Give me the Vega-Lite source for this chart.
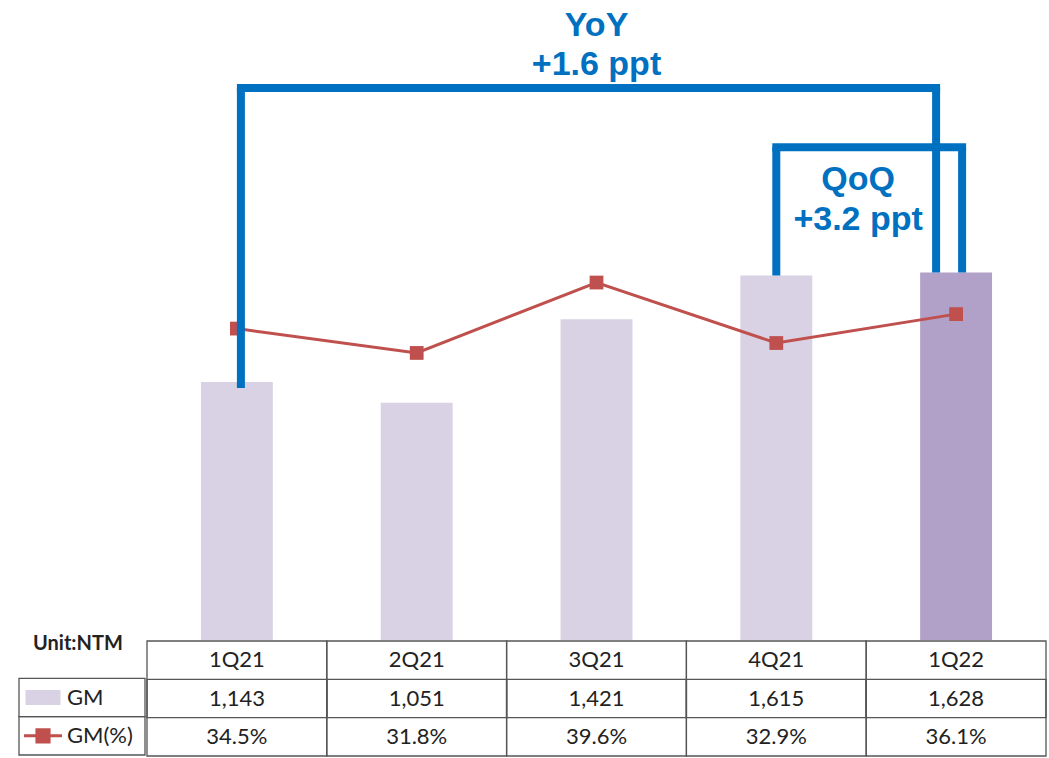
{
  "$schema": "https://vega.github.io/schema/vega-lite/v6.json",
  "description": "Quarterly gross margin (GM, NTM) with GM% line, data table and YoY / QoQ brackets.",
  "padding": {"left": 18, "top": 0, "right": 6, "bottom": 3},
  "config": {
    "view": {"stroke": null},
    "text": {"font": "Lato", "fontSize": 22, "color": "#222222"}
  },
  "datasets": {
    "quarters": [
      {"q": "1Q21", "gm": 1143, "pct": 0.345},
      {"q": "2Q21", "gm": 1051, "pct": 0.318},
      {"q": "3Q21", "gm": 1421, "pct": 0.396},
      {"q": "4Q21", "gm": 1615, "pct": 0.329},
      {"q": "1Q22", "gm": 1628, "pct": 0.361}
    ],
    "brackets": [
      {"name": "YoY", "from": "1Q21", "to": "1Q22", "fromGM": 1143, "toGM": 1628, "level": 2445, "label": ["YoY", "+1.6 ppt"]},
      {"name": "QoQ", "from": "4Q21", "to": "1Q22", "fromGM": 1615, "toGM": 1628, "level": 2183, "label": ["QoQ", "+3.2 ppt"]}
    ]
  },
  "spacing": 0,
  "hconcat": [
    {
      "spacing": 0,
      "bounds": "flush",
      "vconcat": [
        {
          "width": 126,
          "height": 640,
          "data": {"values": [{}]},
          "mark": "text",
          "encoding": {"text": {"value": ""}}
        },
        {
          "width": 126,
          "height": 115,
          "data": {"values": [{"row": "GM"}, {"row": "GM(%)"}]},
          "encoding": {
            "y": {"field": "row", "type": "nominal", "scale": {"domain": ["hdr", "GM", "GM(%)"], "paddingInner": 0, "paddingOuter": 0}, "axis": null}
          },
          "layer": [
            {"mark": {"type": "rect", "filled": false, "stroke": "#555555", "strokeWidth": 1.3}},
            {"mark": {"type": "text", "align": "left", "dx": -15}, "encoding": {"text": {"field": "row"}}},
            {
              "transform": [{"filter": "datum.row == 'GM'"}],
              "mark": {"type": "point", "shape": "M-1,-0.43H1V0.43H-1Z", "size": 1225, "filled": true, "opacity": 1, "color": "#D9D2E4", "xOffset": -39}
            },
            {
              "transform": [{"filter": "datum.row == 'GM(%)'"}],
              "mark": {"type": "point", "shape": "M-1,0H1M-0.32,-0.32H0.32V0.32H-0.32Z", "size": 1444, "filled": true, "opacity": 1, "fill": "#C0504D", "stroke": "#C0504D", "strokeWidth": 3, "xOffset": -39}
            },
            {
              "data": {"values": [{"unit": "Unit:NTM"}]},
              "mark": {"type": "text", "align": "left", "dx": -49, "dy": -15, "fontWeight": "bold", "fontSize": 20},
              "encoding": {
                "y": {"datum": "hdr", "type": "nominal"},
                "text": {"field": "unit"}
              }
            }
          ]
        }
      ]
    },
    {
      "spacing": 0,
      "vconcat": [
        {
          "width": 899,
          "height": 640,
          "data": {"name": "quarters"},
          "encoding": {
            "x": {"field": "q", "type": "nominal", "scale": {"domain": ["1Q21", "2Q21", "3Q21", "4Q21", "1Q22"], "paddingInner": 0.6, "paddingOuter": 0.3}, "axis": null}
          },
          "layer": [
            {
              "mark": {"type": "bar"},
              "encoding": {
                "y": {"field": "gm", "type": "quantitative", "scale": {"domain": [0, 2835]}, "axis": null},
                "color": {"condition": {"test": "datum.q == '1Q22'", "value": "#B1A0C7"}, "value": "#D9D2E4"}
              }
            },
            {
              "mark": {"type": "line", "color": "#C0504D", "strokeWidth": 3, "point": {"shape": "square", "size": 190, "filled": true, "opacity": 1, "color": "#C0504D"}},
              "encoding": {
                "y": {"field": "pct", "type": "quantitative", "scale": {"domain": [0, 0.709]}, "axis": null}
              }
            },
            {
              "data": {"name": "brackets"},
              "transform": [{"filter": "datum.name == 'YoY'"}],
              "layer": [
                {
                  "mark": {"type": "rule", "color": "#0070C0", "strokeWidth": 8, "xOffset": 4, "y2Offset": 6},
                  "encoding": {
                    "x": {"field": "from", "type": "nominal"},
                    "y": {"field": "level", "type": "quantitative", "scale": {"domain": [0, 2835]}, "axis": null},
                    "y2": {"field": "fromGM"}
                  }
                },
                {
                  "mark": {"type": "rule", "color": "#0070C0", "strokeWidth": 8, "xOffset": -20},
                  "encoding": {
                    "x": {"field": "to", "type": "nominal"},
                    "y": {"field": "level", "type": "quantitative", "scale": {"domain": [0, 2835]}, "axis": null},
                    "y2": {"field": "toGM"}
                  }
                },
                {
                  "mark": {"type": "rule", "color": "#0070C0", "strokeWidth": 8, "strokeCap": "square", "xOffset": 4, "x2Offset": -20},
                  "encoding": {
                    "x": {"field": "from", "type": "nominal"},
                    "x2": {"field": "to"},
                    "y": {"field": "level", "type": "quantitative", "scale": {"domain": [0, 2835]}, "axis": null}
                  }
                },
                {
                  "mark": {"type": "text", "font": "Liberation Sans", "fontWeight": "bold", "fontSize": 34, "lineHeight": 39, "color": "#0070C0", "baseline": "alphabetic", "dy": -52},
                  "encoding": {
                    "x": {"datum": "3Q21", "type": "nominal"},
                    "y": {"field": "level", "type": "quantitative", "scale": {"domain": [0, 2835]}, "axis": null},
                    "text": {"field": "label"}
                  }
                }
              ],
              "resolve": {"scale": {"y": "shared"}}
            },
            {
              "data": {"name": "brackets"},
              "transform": [{"filter": "datum.name == 'QoQ'"}],
              "layer": [
                {
                  "mark": {"type": "rule", "color": "#0070C0", "strokeWidth": 8, "xOffset": 0},
                  "encoding": {
                    "x": {"field": "from", "type": "nominal"},
                    "y": {"field": "level", "type": "quantitative", "scale": {"domain": [0, 2835]}, "axis": null},
                    "y2": {"field": "fromGM"}
                  }
                },
                {
                  "mark": {"type": "rule", "color": "#0070C0", "strokeWidth": 8, "xOffset": 6},
                  "encoding": {
                    "x": {"field": "to", "type": "nominal"},
                    "y": {"field": "level", "type": "quantitative", "scale": {"domain": [0, 2835]}, "axis": null},
                    "y2": {"field": "toGM"}
                  }
                },
                {
                  "mark": {"type": "rule", "color": "#0070C0", "strokeWidth": 8, "strokeCap": "square", "xOffset": 0, "x2Offset": 6},
                  "encoding": {
                    "x": {"field": "from", "type": "nominal"},
                    "x2": {"field": "to"},
                    "y": {"field": "level", "type": "quantitative", "scale": {"domain": [0, 2835]}, "axis": null}
                  }
                },
                {
                  "mark": {"type": "text", "font": "Liberation Sans", "fontWeight": "bold", "fontSize": 34, "lineHeight": 40, "color": "#0070C0", "baseline": "alphabetic", "dx": -98, "dy": 43},
                  "encoding": {
                    "x": {"datum": "1Q22", "type": "nominal"},
                    "y": {"field": "level", "type": "quantitative", "scale": {"domain": [0, 2835]}, "axis": null},
                    "text": {"field": "label"}
                  }
                }
              ],
              "resolve": {"scale": {"y": "shared"}}
            }
          ],
          "resolve": {"scale": {"y": "independent"}}
        },
        {
          "width": 899,
          "height": 115,
          "data": {"name": "quarters"},
          "encoding": {
            "x": {"field": "q", "type": "nominal", "scale": {"domain": ["1Q21", "2Q21", "3Q21", "4Q21", "1Q22"], "paddingInner": 0, "paddingOuter": 0}, "axis": null}
          },
          "layer": [
            {"mark": {"type": "rect", "filled": false, "stroke": "#555555", "strokeWidth": 1.3}},
            {
              "mark": {"type": "rect", "filled": false, "stroke": "#555555", "strokeWidth": 1.3},
              "encoding": {"y": {"datum": "GM", "type": "nominal", "scale": {"domain": ["hdr", "GM", "GM(%)"], "paddingInner": 0, "paddingOuter": 0}, "axis": null}}
            },
            {
              "mark": {"type": "text"},
              "encoding": {"y": {"datum": "hdr", "type": "nominal"}, "text": {"field": "q"}}
            },
            {
              "mark": {"type": "text"},
              "encoding": {"y": {"datum": "GM", "type": "nominal"}, "text": {"field": "gm", "type": "quantitative", "format": ","}}
            },
            {
              "mark": {"type": "text"},
              "encoding": {"y": {"datum": "GM(%)", "type": "nominal"}, "text": {"field": "pct", "type": "quantitative", "format": ".1%"}}
            }
          ]
        }
      ]
    }
  ]
}
